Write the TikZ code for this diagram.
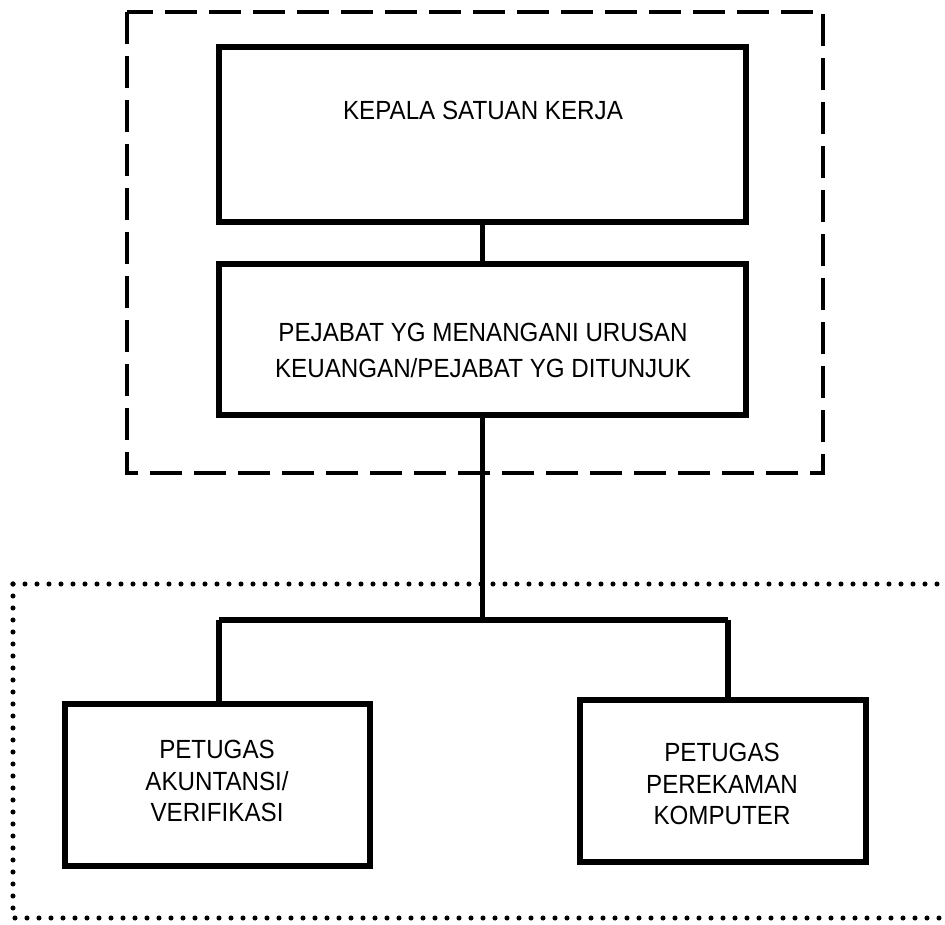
\documentclass[tikz,border=0pt]{standalone}
\usepackage{fontspec}
\setmainfont{Liberation Sans}[FakeStretch=0.92]
\begin{document}
\begin{tikzpicture}[x=0.75pt,y=-0.75pt,
  box/.style={draw,line width=4.2pt,rectangle,inner sep=0pt,outer sep=0pt,anchor=north west},
  conn/.style={line width=4pt},
  lbl/.style={font=\fontsize{19.7pt}{27pt}\selectfont,align=center,inner sep=0pt},
  lbls/.style={font=\fontsize{19.7pt}{23.3pt}\selectfont,align=center,inner sep=0pt},
  dashbox/.style={draw,line width=2.6pt,dash pattern=on 24pt off 9pt},
  dotbox/.style={draw,line width=3.8pt,line cap=round,dash pattern=on 0pt off 9pt}]
\useasboundingbox (0,0) rectangle (945,924);
\clip (0,0) rectangle (945,924);
% group frames
\draw[dashbox] (127,12) rectangle (823,473);
\draw[dotbox] (13,584) -- (13,918) -- (960,918);
\draw[dotbox] (13,584) -- (960,584);
% boxes
\node[box,minimum width=527pt*0.75,minimum height=175pt*0.75] (b1) at (219,47) {};
\node[box,minimum width=527pt*0.75,minimum height=151pt*0.75] (b2) at (219,264) {};
\node[box,minimum width=305pt*0.75,minimum height=162pt*0.75] (b3) at (65,704) {};
\node[box,minimum width=286pt*0.75,minimum height=162pt*0.75] (b4) at (580,700) {};
% texts
\node[lbl] (t1) at (483,110) {KEPALA SATUAN KERJA};
\node[lbl] (t2) at (483,350) {PEJABAT YG MENANGANI URUSAN\\KEUANGAN/PEJABAT YG DITUNJUK};
\node[lbls] (t3) at (217,781) {PETUGAS\\AKUNTANSI/\\VERIFIKASI};
\node[lbls] (t4) at (722,784) {PETUGAS\\PEREKAMAN\\KOMPUTER};
% connectors
\coordinate (bus) at (b2.south |- 0,620);
\coordinate (busL) at (219,620);
\coordinate (busR) at (728,620);
\draw[conn] (b1.south) -- (b2.north);
\draw[conn] (b2.south) -- (bus);
\draw[conn] (busL) -- (busR);
\draw[conn] (busL) -- (busL |- b3.north);
\draw[conn] (busR) -- (busR |- b4.north);
\end{tikzpicture}
\end{document}
